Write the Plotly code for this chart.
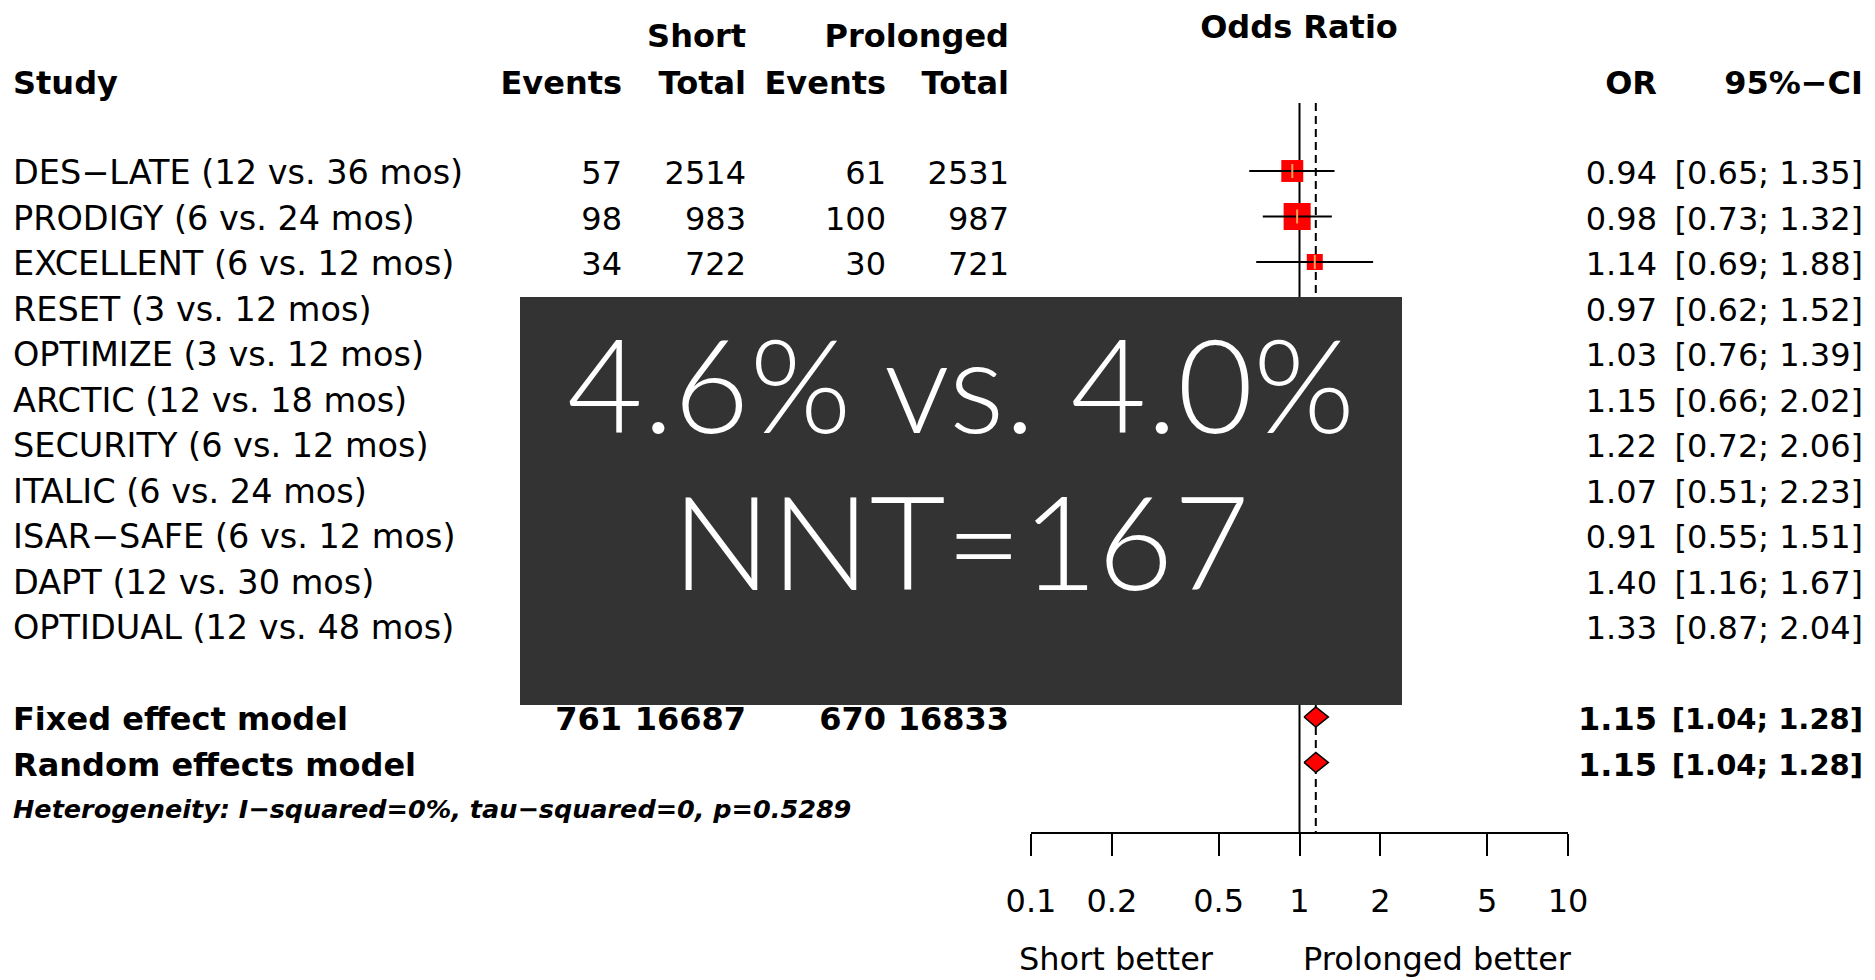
import numpy as np
import plotly.graph_objects as go

# ---------------- data ----------------
studies = ["DES−LATE (12 vs. 36 mos)", "PRODIGY (6 vs. 24 mos)", "EXCELLENT (6 vs. 12 mos)",
           "RESET (3 vs. 12 mos)", "OPTIMIZE (3 vs. 12 mos)", "ARCTIC (12 vs. 18 mos)",
           "SECURITY (6 vs. 12 mos)", "ITALIC (6 vs. 24 mos)", "ISAR−SAFE (6 vs. 12 mos)",
           "DAPT (12 vs. 30 mos)", "OPTIDUAL (12 vs. 48 mos)"]
# counts of rows 4-11 are hidden behind the overlay box in the reference (unreadable)
short_events = [57, 98, 34, None, None, None, None, None, None, None, None]
short_total = [2514, 983, 722, None, None, None, None, None, None, None, None]
long_events = [61, 100, 30, None, None, None, None, None, None, None, None]
long_total = [2531, 987, 721, None, None, None, None, None, None, None, None]
or_vals = [0.94, 0.98, 1.14, 0.97, 1.03, 1.15, 1.22, 1.07, 0.91, 1.40, 1.33]
ci_low = [0.65, 0.73, 0.69, 0.62, 0.76, 0.66, 0.72, 0.51, 0.55, 1.16, 0.87]
ci_high = [1.35, 1.32, 1.88, 1.52, 1.39, 2.02, 2.06, 2.23, 1.51, 1.67, 2.04]

model_labels = ["Fixed effect model", "Random effects model"]
model_or = [1.15, 1.15]
model_low = [1.04, 1.04]
model_high = [1.28, 1.28]
pooled_counts = [761, 16687, 670, 16833]
het_text = "Heterogeneity: I−squared=0%, tau−squared=0, p=0.5289"

tick_vals = [0.1, 0.2, 0.5, 1, 2, 5, 10]
tick_text = ["0.1", "0.2", "0.5", "1", "2", "5", "10"]
overlay_lines = ["4.6% vs. 4.0%", "NNT=167"]

# ---------------- layout geometry (pixels) ----------------
W, H = 1875, 980
FONT = "DejaVu Sans"
FS = 32
row0, step = 171.0, 45.5
row_y = [row0 + step * i for i in range(len(studies))]
txt_off = 5.0
model_y = [row0 + step * (len(studies) + 1), row0 + step * (len(studies) + 2)]
het_y = model_y[1] + 46 + 3
axis_y = 832
line_top = 103

fig = go.Figure()

# ---------- forest panel (xy, log scale) ----------
fig.add_trace(go.Scatter(x=[1, 1], y=[line_top, axis_y], mode="lines",
                         line=dict(color="black", width=2), hoverinfo="skip", showlegend=False))
fig.add_trace(go.Scatter(x=[model_or[0]] * 2, y=[line_top, axis_y], mode="lines",
                         line=dict(color="black", width=2, dash="8px,5px"), hoverinfo="skip", showlegend=False))

# square side ~ sqrt(inverse-variance weight) derived from the CI
se = (np.log(ci_high) - np.log(ci_low)) / (2 * 1.96)
w = 1 / se ** 2
sizes = 44 * np.sqrt(w / w.max())
fig.add_trace(go.Scatter(x=or_vals, y=row_y, mode="markers",
                         marker=dict(symbol="square", size=sizes, color="#FF0000", opacity=1,
                                     line=dict(width=0)),
                         hoverinfo="skip", showlegend=False))
cx, cy = [], []
for lo, hi, y in zip(ci_low, ci_high, row_y):
    cx += [lo, hi, None]
    cy += [y, y, None]
fig.add_trace(go.Scatter(x=cx, y=cy, mode="lines", line=dict(color="black", width=2),
                         hoverinfo="skip", showlegend=False))
fig.add_trace(go.Scatter(x=or_vals, y=row_y, mode="markers",
                         marker=dict(symbol="line-ns-open", size=10, opacity=1,
                                     line=dict(color="black", width=2)),
                         hoverinfo="skip", showlegend=False))
for o, lo, hi, y in zip(model_or, model_low, model_high, model_y):
    fig.add_trace(go.Scatter(x=[lo, o, hi, o, lo], y=[y, y - 10, y, y + 10, y], mode="lines",
                             fill="toself", fillcolor="#FF0000", line=dict(color="black", width=1.6),
                             hoverinfo="skip", showlegend=False))

# ---------- text panel (x2y2, pixel coordinates) ----------
def txt(xs, ys, s, pos, size=FS, weight="normal", style="normal"):
    fig.add_trace(go.Scatter(x=xs, y=ys, text=s, mode="text", textposition=pos,
                             textfont=dict(family=FONT, size=size, color="black", weight=weight, style=style),
                             xaxis="x2", yaxis="y2", hoverinfo="skip", showlegend=False, cliponaxis=False))

def fmt(v):
    return "" if v is None else str(v)

ty = [y + txt_off for y in row_y]
my = [y + txt_off for y in model_y]
txt([13] * len(studies), ty, studies, "middle right", size=33.5)
txt([622] * len(studies), ty, [fmt(v) for v in short_events], "middle left")
txt([746] * len(studies), ty, [fmt(v) for v in short_total], "middle left")
txt([886] * len(studies), ty, [fmt(v) for v in long_events], "middle left")
txt([1009] * len(studies), ty, [fmt(v) for v in long_total], "middle left")
txt([1657] * len(studies), ty, [f"{v:.2f}" for v in or_vals], "middle left")
txt([1863] * len(studies), ty, [f"[{a:.2f}; {b:.2f}]" for a, b in zip(ci_low, ci_high)], "middle left")

txt([13, 13], my, model_labels, "middle right", weight="bold")
txt([622, 746, 886, 1009], [my[0]] * 4, [str(v) for v in pooled_counts], "middle left", weight="bold")
txt([1657, 1657], my, [f"{v:.2f}" for v in model_or], "middle left", weight="bold")
txt([1863, 1863], my, [f"[{a:.2f}; {b:.2f}]" for a, b in zip(model_low, model_high)],
    "middle left", size=29, weight="bold")
txt([13], [het_y], [het_text], "middle right", size=25.5, weight="bold", style="italic")

# headers
txt([746, 1009], [39, 39], ["Short", "Prolonged"], "middle left", weight="bold")
txt([622, 746, 886, 1009, 1657, 1863], [86] * 6,
    ["Events", "Total", "Events", "Total", "OR", "95%−CI"], "middle left", weight="bold")
txt([13], [86], ["Study"], "middle right", weight="bold")
txt([1299], [30], ["Odds Ratio"], "middle center", weight="bold")
txt([1116, 1437], [962, 962], ["Short better", "Prolonged better"], "middle center")

# ---------- overlay ----------
fig.add_shape(type="rect", xref="paper", yref="paper",
              x0=520 / W, x1=1402 / W, y0=1 - 705 / H, y1=1 - 297 / H,
              fillcolor="#333333", line=dict(width=0), layer="above")
for s, y in zip(overlay_lines, [382, 539.5]):
    fig.add_annotation(text=s, xref="x2", yref="y2", x=961, y=y, showarrow=False,
                       xanchor="center", yanchor="middle",
                       font=dict(family="Lato", size=131, color="white", weight=300))

fig.update_layout(
    width=W, height=H, autosize=False,
    margin=dict(l=0, r=0, t=0, b=0, pad=0, autoexpand=False),
    paper_bgcolor="white", plot_bgcolor="rgba(0,0,0,0)", showlegend=False,
    xaxis=dict(domain=[1031 / W, 1568 / W], type="log", range=[-1, 1], anchor="y",
               tickvals=tick_vals, ticktext=tick_text, ticks="outside", ticklen=22, tickwidth=2,
               tickcolor="black", showline=True, linewidth=2, linecolor="black",
               showgrid=False, zeroline=False, ticklabelstandoff=18, automargin=False,
               tickfont=dict(family=FONT, size=FS, color="black"), fixedrange=True),
    yaxis=dict(domain=[1 - axis_y / H, 1], range=[axis_y, 0], visible=False,
               automargin=False, fixedrange=True),
    xaxis2=dict(domain=[0, 1], range=[0, W], anchor="y2", visible=False,
                automargin=False, fixedrange=True),
    yaxis2=dict(domain=[0, 1], range=[H, 0], anchor="x2", visible=False,
                automargin=False, fixedrange=True),
)

fig.write_html("out.html", config={"responsive": False, "displayModeBar": False},
               post_script="document.body.style.margin='0';document.body.style.overflow='hidden';")
